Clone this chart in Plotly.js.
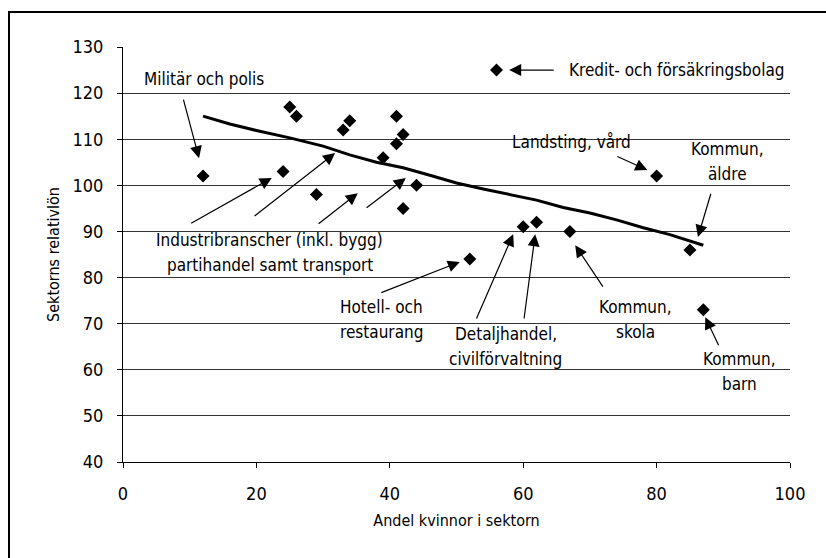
<!DOCTYPE html>
<html>
<head>
<meta charset="utf-8">
<script src="https://cdn.plot.ly/plotly-3.0.1.min.js"></script>
<style>html,body{margin:0;padding:0;background:#fff;}#chart{width:826px;height:558px;}</style>
</head>
<body>
<div id="chart"></div>
<script>
// Sector data: share of women (%) and relative wage
const sectorShareWomen = [12, 24, 25, 26, 29, 33, 34, 39, 41, 41, 42, 44, 42, 56, 80, 85, 60, 62, 67, 52, 87];
const sectorRelWage    = [102, 103, 117, 115, 98, 112, 114, 106, 115, 109, 111, 100, 95, 125, 102, 86, 91, 92, 90, 84, 73];

// Trend line
const trendX = [12, 16, 20, 25, 30, 34, 38, 42, 46, 50, 54, 58, 62, 66, 70, 74, 78, 82, 87];
const trendY = [115, 113.3, 111.9, 110.3, 108.5, 106.6, 105, 103.8, 102.2, 100.5, 99.2, 98, 96.8, 95.2, 94, 92.5, 90.8, 89.3, 87];

// Axis ticks
const xTickVals = [0, 20, 40, 60, 80, 100];
const yTickVals = [40, 50, 60, 70, 80, 90, 100, 110, 120, 130];

// Label texts (lines)
const labelLines = [
  ["Militär och polis"],
  ["Industribranscher (inkl. bygg)", "partihandel samt transport"],
  ["Kredit- och försäkringsbolag"],
  ["Landsting, vård"],
  ["Kommun,", "äldre"],
  ["Hotell- och", "restaurang"],
  ["Detaljhandel,", "civilförvaltning"],
  ["Kommun,", "skola"],
  ["Kommun,", "barn"]
];
const labelX = [12.1, 22, 66.6, 67.3, 90.7, 38.7, 57.4, 76.9, 92.5];
const labelY = [123.1, 85.5, 125, 109.4, 105.2, 70.8, 65, 70.8, 59.7];
const labelAnchor = ["center", "center", "left", "center", "center", "center", "center", "center", "center"];

// Arrows: tail (x,y) -> head (x,y), data coordinates
const arrowTailX = [9.0, 10.0, 19.5, 29.1, 36.3, 64.8, 73.9, 88.2, 38.5, 52.9, 60.1, 72.1, 89.4];
const arrowTailY = [118.9, 91.6, 93.1, 91.4, 94.9, 125, 106.4, 98.5, 76.6, 70.8, 70.8, 77.7, 65];
const arrowHeadX = [11.4, 22.3, 31.8, 35.2, 42.4, 57.9, 78.6, 86.2, 50.5, 58.5, 61.8, 67.8, 87.3];
const arrowHeadY = [105.9, 101.6, 107, 98.3, 101.6, 125, 103.3, 88.8, 83.4, 89.4, 89.4, 87, 71.4];

const FONT = '"DejaVu Sans Condensed", "Liberation Sans Narrow", sans-serif';
const LINE_GAP = 25;

const traces = [
  {
    x: trendX, y: trendY, type: 'scatter', mode: 'lines',
    line: {color: '#000', width: 3}, hoverinfo: 'skip'
  },
  {
    x: sectorShareWomen, y: sectorRelWage, type: 'scatter', mode: 'markers',
    marker: {symbol: 'diamond', size: 10, color: '#000'}
  }
];

const annotations = [];
for (let i = 0; i < labelLines.length; i++) {
  const lines = labelLines[i];
  for (let j = 0; j < lines.length; j++) {
    annotations.push({
      x: labelX[i], y: labelY[i], xref: 'x', yref: 'y', text: lines[j],
      showarrow: false, xanchor: labelAnchor[i], yanchor: 'middle',
      yshift: -(j - (lines.length - 1) / 2) * LINE_GAP,
      font: {family: FONT, size: 17, color: '#000'}
    });
  }
}
for (let i = 0; i < arrowTailX.length; i++) {
  annotations.push({
    x: arrowHeadX[i], y: arrowHeadY[i], xref: 'x', yref: 'y',
    ax: arrowTailX[i], ay: arrowTailY[i], axref: 'x', ayref: 'y',
    text: '', showarrow: true, arrowhead: 2, arrowsize: 2, arrowwidth: 1.2,
    arrowcolor: '#000', standoff: 0, startstandoff: 0
  });
}

const layout = {
  width: 826, height: 558,
  margin: {l: 123, r: 36, t: 47, b: 96},
  paper_bgcolor: '#fff', plot_bgcolor: '#fff',
  showlegend: false,
  font: {family: FONT, size: 17, color: '#000'},
  xaxis: {
    range: [0, 100], tickvals: xTickVals, ticks: 'outside', ticklen: 5,
    tickcolor: '#000', showline: true, linecolor: '#000', linewidth: 1,
    showgrid: false, zeroline: false, ticklabelstandoff: 10,
    tickfont: {family: FONT, size: 18},
    title: {text: 'Andel kvinnor i sektorn', font: {family: FONT, size: 16}, standoff: 12}
  },
  yaxis: {
    range: [40, 130], tickvals: yTickVals, ticks: 'outside', ticklen: 5,
    tickcolor: '#000', showline: true, linecolor: '#000', linewidth: 1,
    showgrid: true, gridcolor: '#333', gridwidth: 1, zeroline: false,
    ticklabelstandoff: 10,
    tickfont: {family: FONT, size: 18},
    title: {text: 'Sektorns relativlön', font: {family: FONT, size: 16}, standoff: 8}
  },
  annotations: annotations,
  shapes: [{
    type: 'rect', xref: 'paper', yref: 'paper',
    x0: -0.1709, x1: 2, y0: -2, y1: 1.0843,
    line: {color: '#000', width: 2}, fillcolor: 'rgba(0,0,0,0)'
  }]
};

Plotly.newPlot('chart', traces, layout, {displayModeBar: false, staticPlot: true});
</script>
</body>
</html>
